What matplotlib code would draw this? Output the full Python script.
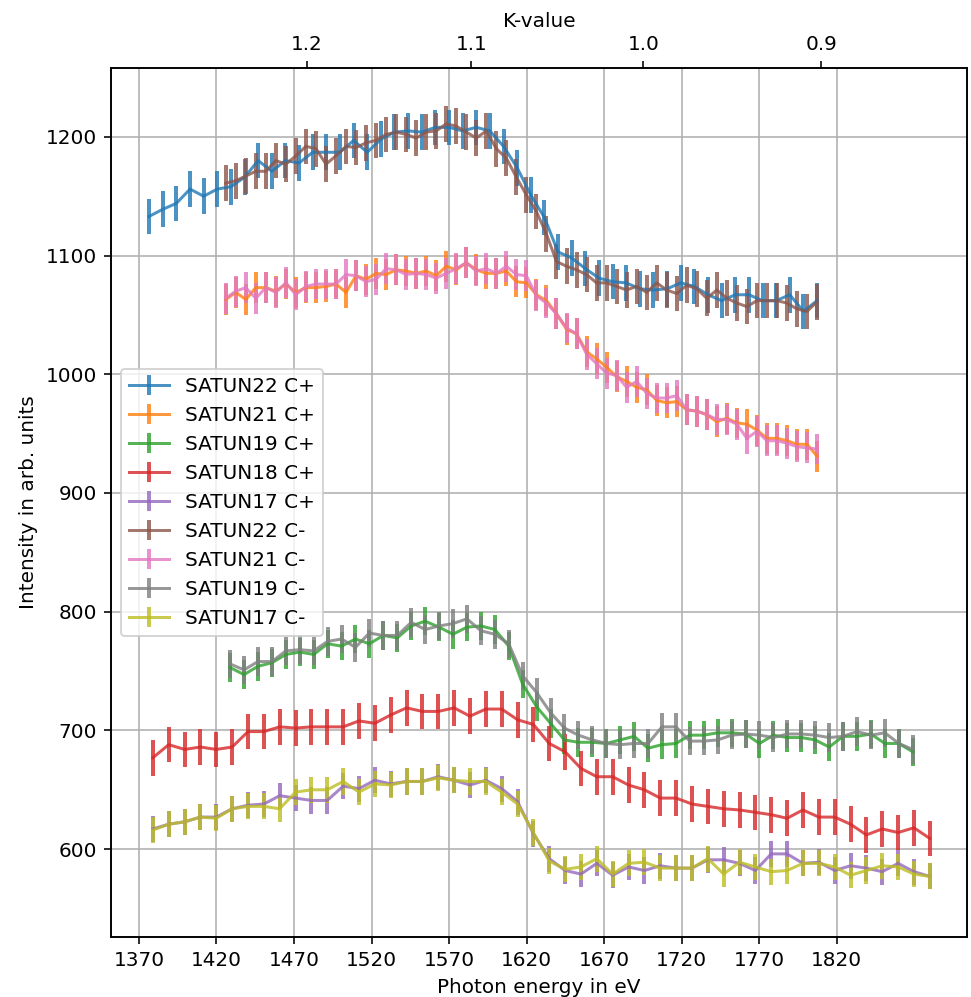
import numpy as np
import matplotlib
matplotlib.use("Agg")
import matplotlib.pyplot as plt

# grilles en energie (eV) de chaque scan
e_22p = np.linspace(1376.6, 1807.3, 50)
e_22m = np.linspace(1426.0, 1807.3, 60)
e_21 = np.linspace(1426.0, 1807.3, 60)
e_19 = np.linspace(1428.8, 1869.0, 50)
e_18 = np.linspace(1379.0, 1880.0, 50)
e_17 = np.linspace(1379.0, 1880.0, 50)

satun22_cp = [1133, 1139, 1144, 1156, 1150, 1156, 1158, 1166, 1180, 1171,
              1180, 1178, 1187, 1187, 1187, 1197, 1187, 1198, 1204, 1205,
              1204, 1208, 1208, 1205, 1208, 1205, 1192, 1174, 1151, 1132,
              1103, 1098, 1089, 1081, 1078, 1077, 1072, 1071, 1072, 1077,
              1074, 1067, 1062, 1067, 1067, 1062, 1062, 1067, 1053, 1062]
satun22_cm = [1161, 1163, 1167, 1171, 1171, 1180, 1177, 1184, 1192, 1190,
              1177, 1184, 1192, 1191, 1195, 1197, 1202, 1204, 1202, 1199,
              1204, 1205, 1211, 1209, 1204, 1199, 1205, 1190, 1182, 1166,
              1151, 1137, 1118, 1095, 1091, 1088, 1084, 1077, 1077, 1074,
              1071, 1074, 1069, 1077, 1071, 1068, 1075, 1072, 1064, 1071,
              1064, 1060, 1057, 1062, 1062, 1062, 1060, 1055, 1053, 1061]
satun21_cp = [1063, 1069, 1063, 1073, 1073, 1070, 1076, 1069, 1073, 1073,
              1074, 1076, 1069, 1083, 1080, 1085, 1084, 1088, 1087, 1085,
              1087, 1083, 1091, 1088, 1094, 1088, 1085, 1085, 1087, 1078,
              1077, 1067, 1062, 1051, 1038, 1034, 1019, 1013, 1006, 998,
              994, 989, 987, 978, 976, 977, 970, 969, 966, 960,
              963, 959, 958, 953, 946, 946, 944, 941, 941, 931]
satun21_cm = [1064, 1070, 1073, 1064, 1073, 1069, 1077, 1067, 1074, 1076,
              1076, 1076, 1084, 1083, 1078, 1080, 1089, 1088, 1084, 1085,
              1084, 1081, 1085, 1089, 1094, 1087, 1089, 1085, 1091, 1084,
              1083, 1066, 1060, 1051, 1039, 1034, 1017, 1009, 1001, 999,
              989, 994, 984, 980, 980, 982, 970, 969, 966, 962,
              962, 958, 946, 952, 944, 944, 942, 939, 938, 937]
satun19_cp = [753, 747, 754, 757, 764, 766, 764, 773, 771, 777,
              773, 780, 778, 788, 792, 787, 781, 787, 788, 785,
              771, 739, 720, 706, 692, 690, 690, 689, 692, 695,
              685, 688, 689, 696, 696, 698, 698, 697, 689, 696,
              694, 694, 692, 686, 695, 695, 697, 689, 689, 682]
satun19_cm = [756, 751, 758, 758, 767, 768, 767, 775, 777, 770,
              782, 780, 780, 791, 785, 788, 790, 794, 784, 781,
              773, 746, 732, 715, 702, 696, 692, 689, 688, 689,
              689, 703, 703, 691, 691, 692, 696, 697, 696, 694,
              697, 697, 696, 694, 695, 699, 696, 698, 689, 684]
satun18_cp = [677, 688, 684, 686, 684, 686, 699, 699, 703, 702,
              703, 703, 703, 708, 706, 713, 719, 716, 716, 719,
              712, 718, 718, 709, 705, 689, 682, 668, 661, 661,
              654, 650, 643, 643, 638, 636, 634, 633, 631, 629,
              626, 633, 627, 627, 621, 612, 617, 614, 618, 609]
satun17_cp = [617, 621, 623, 627, 627, 634, 637, 638, 645, 643,
              641, 641, 653, 651, 658, 655, 657, 657, 661, 658,
              654, 658, 651, 640, 613, 592, 582, 579, 588, 578,
              585, 582, 586, 584, 584, 591, 591, 588, 582, 596,
              596, 588, 589, 582, 586, 584, 581, 588, 581, 577]
satun17_cm = [616, 621, 623, 627, 626, 634, 636, 636, 634, 648,
              650, 650, 657, 648, 655, 654, 657, 657, 660, 658,
              657, 657, 648, 638, 614, 590, 583, 585, 592, 579,
              588, 589, 584, 584, 584, 592, 579, 589, 585, 581,
              582, 588, 588, 585, 578, 582, 586, 585, 579, 577]

# barres d'erreur (estimees a l'oeil)
err = {"SATUN22 C+": 15, "SATUN21 C+": 13, "SATUN19 C+": 12, "SATUN18 C+": 15,
       "SATUN17 C+": 11, "SATUN22 C-": 15, "SATUN21 C-": 13, "SATUN19 C-": 12,
       "SATUN17 C-": 11}

series = [("SATUN22 C+", e_22p, satun22_cp),
          ("SATUN21 C+", e_21, satun21_cp),
          ("SATUN19 C+", e_19, satun19_cp),
          ("SATUN18 C+", e_18, satun18_cp),
          ("SATUN17 C+", e_17, satun17_cp),
          ("SATUN22 C-", e_22m, satun22_cm),
          ("SATUN21 C-", e_21, satun21_cm),
          ("SATUN19 C-", e_19, satun19_cm),
          ("SATUN17 C-", e_17, satun17_cm)]

k_ticks = [1.2, 1.1, 1.0, 0.9]
E0 = 2543.0  # E = E0 / (1 + K^2/2)

dpi = 144
fig = plt.figure(figsize=(971 / dpi, 997 / dpi), dpi=dpi)
ax = fig.add_axes([0.1143, 0.0602, 0.8816, 0.8716])

for name, e, y in series:
    ax.errorbar(e, y, yerr=err[name], label=name, alpha=0.8, elinewidth=2)

ax.set_xlim(1352, 1904)
ax.set_ylim(526, 1258)
ax.set_xticks(np.arange(1370, 1821, 50))
ax.set_yticks(np.arange(600, 1201, 100))
ax.grid(True)
ax.set_xlabel("Photon energy in eV")
ax.set_ylabel("Intensity in arb. units")
ax.legend(loc="center left")

ax2 = ax.twiny()
ax2.set_xlim(ax.get_xlim())
ax2.set_xticks([E0 / (1 + k ** 2 / 2) for k in k_ticks])
ax2.set_xticklabels([str(k) for k in k_ticks])
ax2.set_xlabel("K-value")

fig.savefig("out.png", dpi=dpi)
